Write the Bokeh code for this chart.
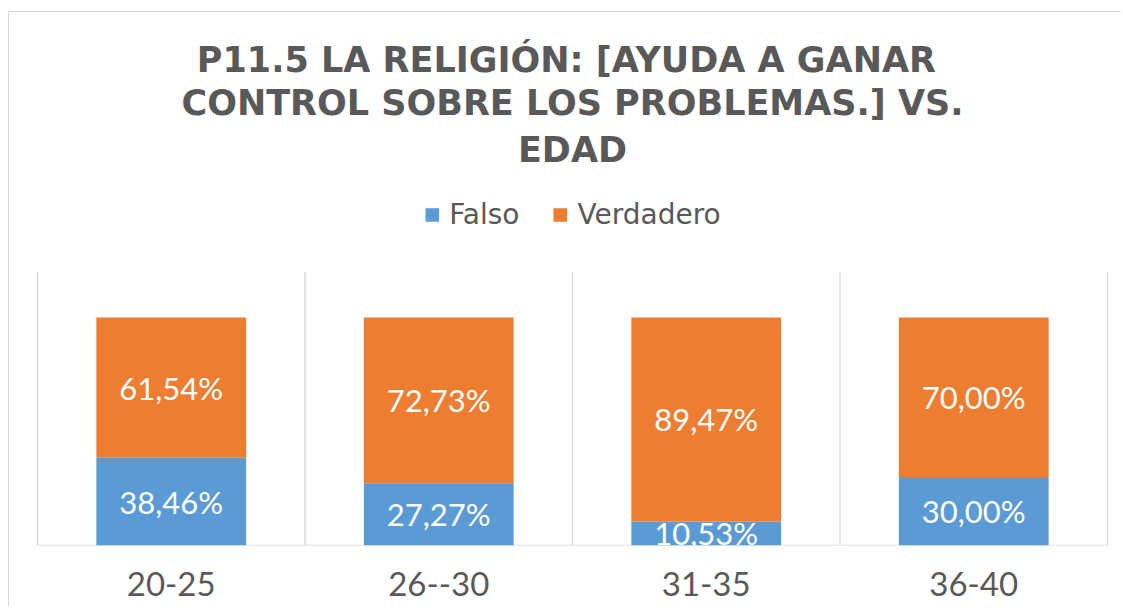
import numpy as np
from bokeh.plotting import figure
from bokeh.models import (ColumnDataSource, Range1d, FixedTicker, Legend, LegendItem, Title)
from bokeh.core.properties import value
from bokeh.embed import file_html
from bokeh.resources import INLINE

# ---- data ----
categories = ["20-25", "26--30", "31-35", "36-40"]
series_names = ["Falso", "Verdadero"]
falso = [38.46, 27.27, 10.53, 30.00]
verdadero = [61.54, 72.73, 89.47, 70.00]
title_lines = ["P11.5  LA RELIGIÓN: [AYUDA A GANAR", "CONTROL SOBRE LOS PROBLEMAS.] VS.", "EDAD"]

BLUE = "#5B9BD5"
ORANGE = "#ED7D31"
GRAY_TXT = "#595959"
GRID = "#D9D9D9"
FONT = "Lato"

n = len(categories)
x = np.arange(n) + 0.5
fal = np.array(falso)
ver = np.array(verdadero)

def fmt(v):
    return f"{v:.2f}".replace(".", ",") + "%"

src = ColumnDataSource(dict(x=x, falso=fal, verdadero=ver))
lab = ColumnDataSource(dict(
    x=np.concatenate([x, x]),
    y=np.concatenate([fal / 2, fal + ver / 2]),
    t=[fmt(v) for v in falso] + [fmt(v) for v in verdadero],
))

FRAME_W = 1084
FRAME_H = 372
px_per_x = 267.5
pad_x = (FRAME_W - n * px_per_x) / 2 / px_per_x
px_per_pct = 2.28
ymax_plot = 120  # plot-area top (percent)

p = figure(frame_width=FRAME_W, frame_height=FRAME_H, output_backend="svg", toolbar_location=None,
           x_range=Range1d(-pad_x, n + pad_x), y_range=Range1d(0, FRAME_H / px_per_pct),
           min_border_left=21, min_border_right=7, min_border_bottom=62, min_border_top=161,
           title=None,
           styles={"margin-left": "8px", "margin-top": "11px",
                   "border-left": "1px solid #D9D9D9", "border-top": "1px solid #D9D9D9"})
p.outline_line_color = None
p.background_fill_color = "white"
p.border_fill_color = "white"
p.grid.visible = False
p.yaxis.visible = False

# vertical category separators and base line
bounds = np.arange(n + 1)
p.segment(x0=bounds, y0=0, x1=bounds, y1=ymax_plot, line_color=GRID, line_width=1.3)
p.segment(x0=[0], y0=[0], x1=[n], y1=[0], line_color=GRID, line_width=1.5)

rs = p.vbar_stack(["falso", "verdadero"], x="x", width=0.56, source=src,
                  color=[BLUE, ORANGE], line_color=None)

p.text(x="x", y="y", text="t", source=lab, text_color="white",
       text_font=value(FONT), text_font_size="31px",
       text_align="center", text_baseline="middle")

ax = p.xaxis[0]
ax.ticker = FixedTicker(ticks=list(x))
ax.major_label_overrides = {float(xi): c for xi, c in zip(x, categories)}
ax.axis_line_color = None
ax.major_tick_line_color = None
ax.minor_tick_line_color = None
ax.major_tick_out = 0
ax.major_label_standoff = 26
ax.major_label_text_font = FONT
ax.major_label_text_font_size = "33px"
ax.major_label_text_color = GRAY_TXT

legend = Legend(items=[LegendItem(label=nm, renderers=[r]) for nm, r in zip(series_names, rs)],
                orientation="horizontal", location="top_center",
                glyph_width=17, glyph_height=17, label_standoff=9, spacing=32, label_height=30,
                label_text_font="DejaVu Sans", label_text_font_size="28px", label_text_color=GRAY_TXT,
                border_line_color=None, background_fill_alpha=0, padding=0, margin=25)
p.add_layout(legend, "center")

standoffs = [2, 1, 8]
for line, so in reversed(list(zip(title_lines, standoffs))):
    p.add_layout(Title(text=line, align="center", text_font="DejaVu Sans",
                       text_font_size="35px", text_font_style="bold", text_color=GRAY_TXT,
                       standoff=so), "above")

open("out.html", "w").write(file_html(p, INLINE))
